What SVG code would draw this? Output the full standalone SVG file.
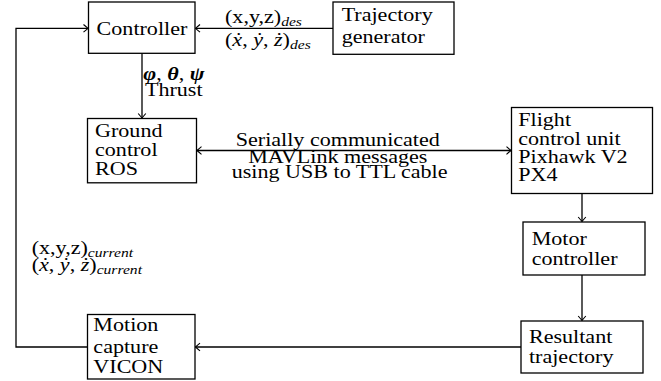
<svg xmlns="http://www.w3.org/2000/svg" width="661" height="381" viewBox="0 0 661 381">
<style>
rect.box{fill:#fff;stroke:#000;stroke-width:1.3}
text{font-family:"Liberation Serif","Times New Roman",serif;font-size:18.4px;fill:#000}
.conn path{fill:none;stroke:#000;stroke-width:1.3}
.it{font-style:italic}
.sub{font-style:italic;font-size:13px}
.bi{font-style:italic;font-weight:bold}
.mid{text-anchor:middle}
</style>
<defs>
<marker id="ah" viewBox="-6 -5 8 10" refX="0" refY="0" markerWidth="8" markerHeight="10" markerUnits="userSpaceOnUse" orient="auto-start-reverse">
<path d="M-4.5,-3.8 Q-1.2,-1 0,0 Q-1.2,1 -4.5,3.8" fill="none" stroke="#000" stroke-width="1.1"/>
</marker>
</defs>
<rect width="661" height="381" fill="#fff"/>
<g class="conn">
<path d="M333,28.3 H195.5" marker-end="url(#ah)"/>
<path d="M142,53.3 V118" marker-end="url(#ah)"/>
<path d="M197,150.5 H511" marker-start="url(#ah)" marker-end="url(#ah)"/>
<path d="M582,193.5 V221.5" marker-end="url(#ah)"/>
<path d="M582,275 V320.5" marker-end="url(#ah)"/>
<path d="M521,347 H195.5" marker-end="url(#ah)"/>
<path d="M87.5,347 H16 V28.3 H88" marker-end="url(#ah)"/>
</g>
<g id="controller">
<rect class="box" x="88.5" y="2" width="106.5" height="51.3"/>
<text class="mid" transform="scale(1.2 1)" x="118.3" y="35">Controller</text>
</g>
<g id="trajectory-generator">
<rect class="box" x="333" y="2" width="121" height="52.3"/>
<text transform="scale(1.2 1)" x="284.7" y="21.5">Trajectory</text>
<text transform="scale(1.2 1)" x="284.7" y="43.5">generator</text>
</g>
<g id="ground-control">
<rect class="box" x="87.5" y="118.5" width="109" height="64.3"/>
<text transform="scale(1.2 1)" x="79.2" y="137">Ground</text>
<text transform="scale(1.2 1)" x="79.2" y="156.5">control</text>
<text transform="scale(1.2 1)" x="79.2" y="175.5">ROS</text>
</g>
<g id="flight-control-unit">
<rect class="box" x="511.5" y="107.5" width="141" height="86"/>
<text transform="scale(1.2 1)" x="431.9" y="126.5">Flight</text>
<text transform="scale(1.2 1)" x="431.9" y="145.3">control unit</text>
<text transform="scale(1.2 1)" x="431.9" y="163.5">Pixhawk V2</text>
<text transform="scale(1.2 1)" x="431.9" y="181.5">PX4</text>
</g>
<g id="motor-controller">
<rect class="box" x="523" y="222" width="122" height="53"/>
<text transform="scale(1.2 1)" x="443.1" y="245">Motor</text>
<text transform="scale(1.2 1)" x="443.1" y="264.8">controller</text>
</g>
<g id="resultant-trajectory">
<rect class="box" x="521" y="321" width="122" height="52"/>
<text transform="scale(1.2 1)" x="440.8" y="343.5">Resultant</text>
<text transform="scale(1.2 1)" x="440.8" y="362.8">trajectory</text>
</g>
<g id="motion-capture">
<rect class="box" x="87.5" y="314.5" width="107.5" height="64.5"/>
<text transform="scale(1.2 1)" x="77.8" y="331.5">Motion</text>
<text transform="scale(1.2 1)" x="77.8" y="353">capture</text>
<text transform="scale(1.2 1)" x="77.8" y="373">VICON</text>
</g>
<g id="labels">
<text transform="scale(1.2 1)" x="187.5" y="23.5">(x,y,z)<tspan class="sub" dy="3">des</tspan></text>
<text transform="scale(1.2 1)" x="187.5" y="46">(<tspan class="it">ẋ</tspan>, <tspan class="it">ẏ</tspan>, <tspan class="it">ż</tspan>)<tspan class="sub" dy="3">des</tspan></text>
<text transform="scale(1.2 1)" x="119.4" y="80"><tspan class="bi">φ</tspan>, <tspan class="bi">θ</tspan>, <tspan class="bi">ψ</tspan></text>
<text transform="scale(1.2 1)" x="120.8" y="96.5">Thrust</text>
<text class="mid" transform="scale(1.2 1)" x="281.5" y="146.5">Serially communicated</text>
<text class="mid" transform="scale(1.2 1)" x="281.5" y="163">MAVLink messages</text>
<text class="mid" transform="scale(1.2 1)" x="283" y="178.5">using USB to TTL cable</text>
<text transform="scale(1.2 1)" x="26.4" y="254">(x,y,z)<tspan class="sub" dy="3">current</tspan></text>
<text transform="scale(1.2 1)" x="26.4" y="271">(<tspan class="it">ẋ</tspan>, <tspan class="it">ẏ</tspan>, <tspan class="it">ż</tspan>)<tspan class="sub" dy="3">current</tspan></text>
</g>
</svg>
